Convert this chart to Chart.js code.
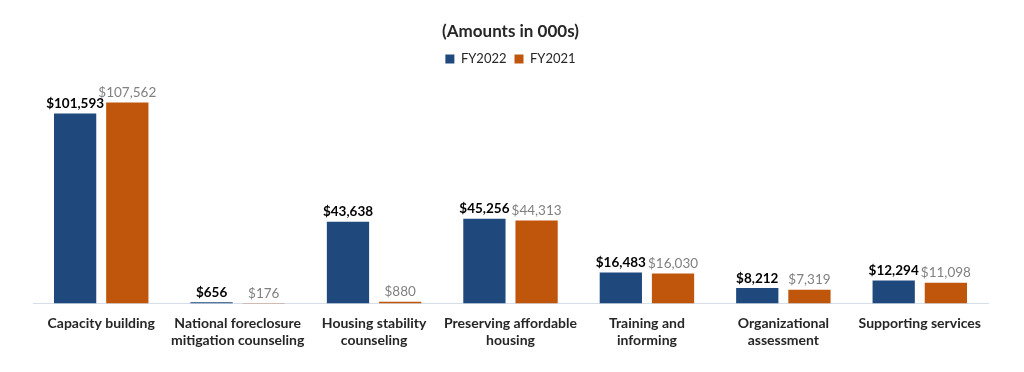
<!DOCTYPE html>
<html>
<head>
<meta charset="utf-8">
<script src="https://cdn.jsdelivr.net/npm/chart.js@4"></script>
<style>
  html, body { margin: 0; padding: 0; background: #fff; }
  #wrap { width: 1024px; height: 372px; position: relative; }
</style>
</head>
<body>
<div id="wrap"><canvas id="fundingChart"></canvas></div>
<script>
// Values in thousands of dollars
const categories = [
    ['Capacity building'],
    ['National foreclosure', 'mitigation counseling'],
    ['Housing stability', 'counseling'],
    ['Preserving affordable', 'housing'],
    ['Training and', 'informing'],
    ['Organizational', 'assessment'],
    ['Supporting services']
];
const fy2022 = [101593, 656, 43638, 45256, 16483, 8212, 12294];
const fy2021 = [107562, 176, 880, 44313, 16030, 7319, 11098];

const FONT = 'Lato, "Open Sans", sans-serif';

// simple value labels above each bar
const barLabels = {
    id: 'barLabels',
    afterDatasetsDraw(chart) {
        const ctx = chart.ctx;
        chart.data.datasets.forEach((ds, i) => {
            const meta = chart.getDatasetMeta(i);
            ctx.save();
            ctx.font = (i === 0 ? 'bold ' : '') + '13.5px ' + FONT;
            ctx.fillStyle = i === 0 ? '#000000' : '#808080';
            ctx.textAlign = 'center';
            ctx.textBaseline = 'bottom';
            meta.data.forEach((bar, j) => {
                const txt = '$' + ds.data[j].toLocaleString('en-US');
                ctx.fillText(txt, bar.x, bar.y - 3);
            });
            ctx.restore();
        });
    }
};

new Chart(document.getElementById('fundingChart'), {
    type: 'bar',
    data: {
        labels: categories,
        datasets: [{
            label: 'FY2022',
            data: fy2022,
            backgroundColor: '#1F497D'
        }, {
            label: 'FY2021',
            data: fy2021,
            backgroundColor: '#C0560C'
        }]
    },
    options: {
        responsive: true,
        maintainAspectRatio: false,
        animation: false,
        categoryPercentage: 0.765,
        barPercentage: 0.81,
        layout: { padding: { left: 33, right: 36, bottom: 11 } },
        plugins: {
            title: {
                display: true,
                text: '(Amounts in 000s)',
                color: '#262626',
                font: { family: FONT, size: 17, weight: 'bold' },
                padding: { top: 21, bottom: 3 }
            },
            legend: {
                labels: {
                    color: '#262626',
                    font: { family: FONT, size: 13 },
                    boxWidth: 9,
                    boxHeight: 9,
                    padding: 8
                }
            },
            tooltip: { enabled: false }
        },
        scales: {
            x: {
                grid: { display: false, drawTicks: false },
                border: { display: true, color: '#D6DEEB' },
                ticks: {
                    color: '#262626',
                    font: { family: FONT, size: 14, weight: 'bold' },
                    maxRotation: 0,
                    autoSkip: false,
                    padding: 12
                }
            },
            y: {
                display: false,
                min: 0,
                max: 122000
            }
        }
    },
    plugins: [barLabels]
});
</script>
</body>
</html>
